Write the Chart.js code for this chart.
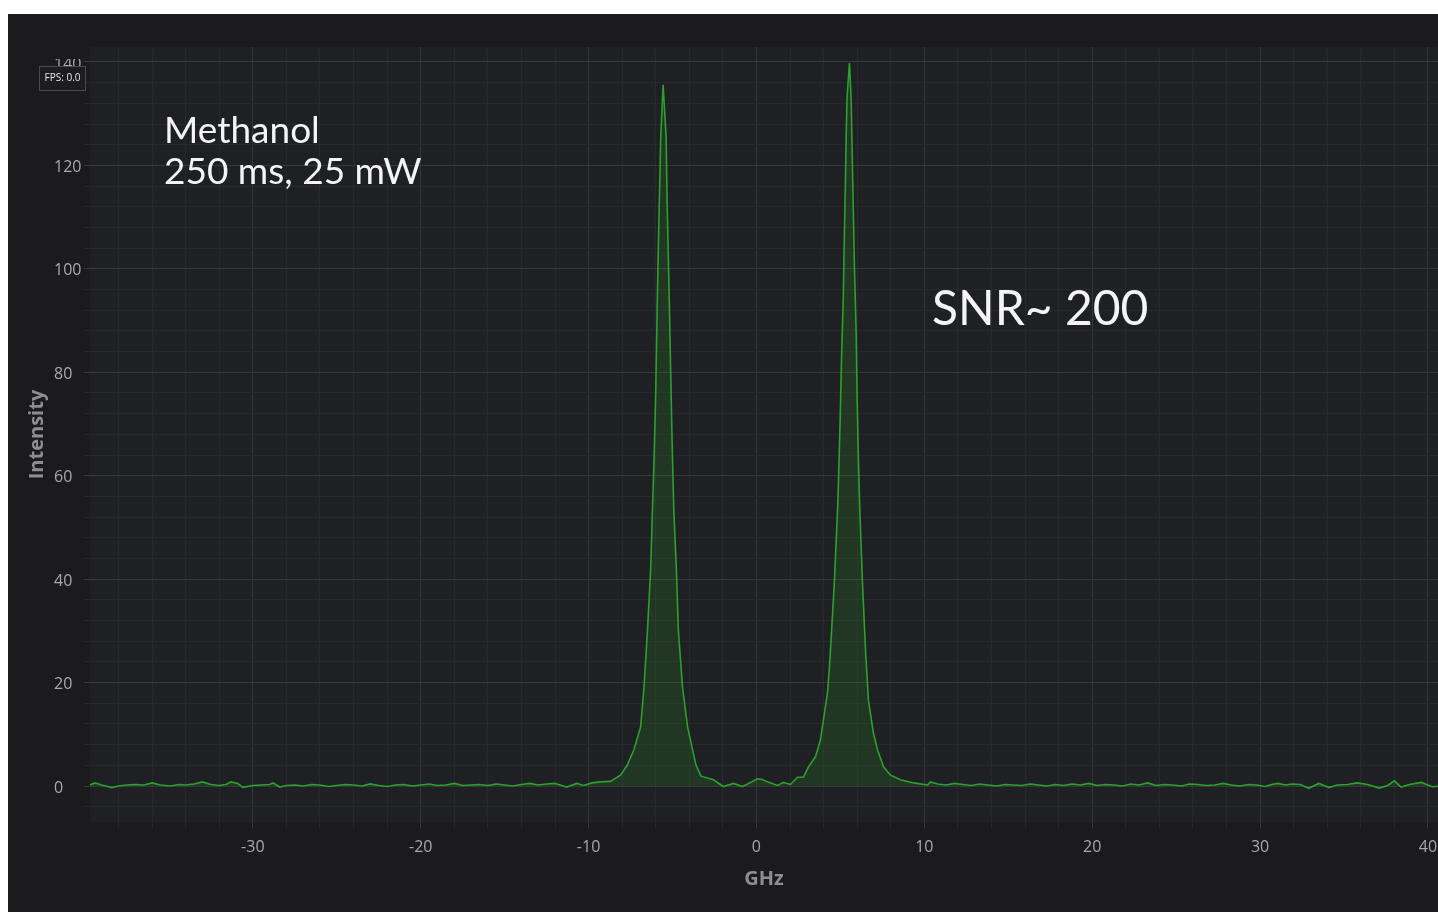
<!DOCTYPE html>
<html>
<head>
<meta charset="utf-8">
<title>Methanol spectrum</title>
<script src="https://cdn.jsdelivr.net/npm/chart.js@4"></script>
<style>
  html, body { margin: 0; padding: 0; background: #ffffff; }
  #wrap { position: absolute; left: 8px; top: 14px; width: 1430px; height: 898px; background: #1b1b1d; }
</style>
</head>
<body>
<div id="wrap"><canvas id="spectrum"></canvas></div>
<script>
const freqGHz = [
  -39.7, -39.4, -39.0, -38.4, -38.0, -37.5, -37.0, -36.5, -36.0, -35.5,
  -34.9, -34.4, -34.0, -33.5, -33.0, -32.5, -32.0, -31.6, -31.3, -30.9,
  -30.6, -30.0, -29.5, -29.0, -28.8, -28.4, -28.0, -27.5, -27.0, -26.5,
  -26.0, -25.5, -25.0, -24.5, -24.0, -23.5, -23.0, -22.5, -22.0, -21.5,
  -21.0, -20.5, -20.0, -19.5, -19.0, -18.5, -18.0, -17.5, -17.0, -16.5,
  -16.0, -15.5, -15.0, -14.5, -14.0, -13.5, -13.0, -12.5, -12.0, -11.7,
  -11.3, -10.7, -10.3, -9.8, -9.3, -8.7, -8.1, -7.7, -7.3, -6.9,
  -6.7, -6.5, -6.3, -6.2, -6.1, -6.0, -5.9, -5.8, -5.7, -5.56,
  -5.38, -5.32, -5.22, -5.12, -5.02, -4.92, -4.77, -4.65, -4.4, -4.1,
  -3.6, -3.3, -2.56, -1.97, -1.37, -0.83, -0.4, 0.06, 0.3, 0.66,
  1.25, 1.61, 2.03, 2.44, 2.8, 3.1, 3.52, 3.81, 3.99, 4.23,
  4.35, 4.53, 4.65, 4.85, 4.91, 4.99, 5.07, 5.17, 5.24, 5.3,
  5.35, 5.4, 5.54, 5.64, 5.7, 5.76, 5.84, 5.94, 6.0, 6.06,
  6.14, 6.32, 6.5, 6.67, 6.97, 7.21, 7.57, 7.99, 8.58, 9.36,
  10.19, 10.37, 10.8, 11.3, 11.8, 12.3, 12.8, 13.3, 13.8, 14.3,
  14.8, 15.3, 15.8, 16.3, 16.8, 17.3, 17.8, 18.3, 18.8, 19.3,
  19.8, 20.3, 20.8, 21.3, 21.8, 22.3, 22.8, 23.3, 23.8, 24.3,
  24.8, 25.3, 25.8, 26.3, 26.8, 27.3, 27.8, 28.3, 28.8, 29.3,
  29.8, 30.3, 30.7, 31.05, 31.5, 31.9, 32.4, 32.9, 33.5, 34.1,
  34.6, 35.2, 35.8, 36.4, 37.1, 37.6, 38.0, 38.4, 38.9, 39.6,
  40.3, 40.6
];
const intensity = [
  0.2, 0.6, 0.2, -0.3, 0.0, 0.2, 0.3, 0.2, 0.6, 0.2,
  0.0, 0.3, 0.2, 0.4, 0.8, 0.3, 0.1, 0.3, 0.8, 0.5,
  -0.25, 0.1, 0.2, 0.3, 0.6, -0.2, 0.1, 0.2, 0.0, 0.3,
  0.2, -0.1, 0.1, 0.3, 0.2, 0.0, 0.4, 0.1, -0.1, 0.2,
  0.3, 0.0, 0.2, 0.4, 0.1, 0.2, 0.5, 0.1, 0.2, 0.3,
  0.1, 0.4, 0.2, 0.0, 0.3, 0.5, 0.2, 0.4, 0.5, 0.2,
  -0.2, 0.5, 0.1, 0.6, 0.8, 0.9, 2.1, 4.0, 7.0, 11.4,
  19, 29.6, 42, 53, 63, 76, 95, 111, 125.5, 135.6,
  125.5, 113, 98, 82, 66, 53, 42, 30, 19, 11.4,
  4.0, 1.9, 1.2, -0.1, 0.5, -0.1, 0.6, 1.4, 1.3, 0.8,
  0.1, 0.7, 0.3, 1.7, 1.7, 3.7, 5.7, 8.9, 12.8, 18,
  23, 33, 40, 55, 61.7, 71.4, 83, 94, 107, 116.6,
  126.3, 133.3, 139.8, 133, 123, 113, 100, 87.6, 74.7, 65,
  55, 39, 26, 16.6, 10.2, 7.0, 3.7, 2.1, 1.2, 0.6,
  0.2, 0.8, 0.4, 0.2, 0.5, 0.3, 0.1, 0.4, 0.2, 0.0,
  0.3, 0.2, 0.1, 0.4, 0.2, 0.0, 0.3, 0.1, 0.4, 0.2,
  0.5, 0.1, 0.3, 0.2, 0.0, 0.4, 0.2, 0.6, 0.1, 0.3,
  0.2, 0.0, 0.4, 0.3, 0.1, 0.2, 0.5, 0.2, 0.0, 0.3,
  0.2, -0.1, 0.3, 0.5, 0.2, 0.4, 0.3, -0.45, 0.5, -0.3,
  0.2, 0.3, 0.6, 0.3, -0.4, 0.1, 1.0, -0.2, 0.3, 0.7,
  -0.2, 0.0
];

// axis ranges and tick spacing
const xRange = [-39.7, 40.6];
const yRange = [-6.96, 142.9];
const xStep = 2, xLabelEvery = 10;
const yStep = 4, yLabelEvery = 20;

const OUTER_BG = '#1b1b1d';
const PLOT_BG = '#1f2023';
const GRID_MAJOR = '#36373a';
const GRID_MINOR = '#27282b';
const TICK_COLOR = '#a9a9ad';
const TITLE_COLOR = '#8e8e92';
const TRACE = '#2ca02c';

const isMajor = (v, every) => Math.abs(v % every) < 1e-6;

const decor = {
  id: 'decor',
  beforeDraw(chart) {
    const { ctx, chartArea: a } = chart;
    ctx.save();
    ctx.fillStyle = PLOT_BG;
    ctx.fillRect(a.left, a.top, a.right - a.left, a.bottom - a.top);
    ctx.restore();
  },
  afterDraw(chart) {
    const { ctx } = chart;
    ctx.save();
    // the top label sits half under the header strip
    ctx.fillStyle = OUTER_BG;
    ctx.fillRect(0, 0, chart.chartArea.left, 45);

    // fps badge
    ctx.fillStyle = '#1d1d1f';
    ctx.strokeStyle = '#4a4a4d';
    ctx.lineWidth = 1;
    ctx.fillRect(31.5, 52.5, 46, 24);
    ctx.strokeRect(31.5, 52.5, 46, 24);
    ctx.fillStyle = '#e6e6e6';
    ctx.font = '10px "Open Sans"';
    ctx.textAlign = 'center';
    ctx.textBaseline = 'middle';
    ctx.fillText('FPS: 0.0', 54.5, 64.5);

    // notes
    ctx.fillStyle = '#f4f4f4';
    ctx.textAlign = 'left';
    ctx.textBaseline = 'alphabetic';
    ctx.font = '37px Lato';
    ctx.fillText('Methanol', 156, 129);
    ctx.fillText('250 ms, 25 mW', 156, 170);
    ctx.font = '48px Lato';
    ctx.fillText('SNR~ 200', 924, 311);
    ctx.restore();
  }
};

new Chart(document.getElementById('spectrum'), {
  type: 'line',
  data: {
    datasets: [{
      label: 'Intensity',
      data: freqGHz.map((f, i) => ({ x: f, y: intensity[i] })),
      borderColor: TRACE,
      borderWidth: 1.6,
      backgroundColor: 'rgba(44,160,44,0.18)',
      fill: 'origin',
      pointRadius: 0,
      tension: 0
    }]
  },
  options: {
    responsive: true,
    maintainAspectRatio: false,
    animation: false,
    layout: { padding: { left: 46, top: 33, right: 0, bottom: 0 } },
    plugins: { legend: { display: false }, tooltip: { enabled: false } },
    scales: {
      x: {
        type: 'linear',
        min: xRange[0],
        max: xRange[1],
        border: { display: false },
        grid: {
          color: c => isMajor(c.tick.value, xLabelEvery) ? GRID_MAJOR : GRID_MINOR,
          tickColor: c => isMajor(c.tick.value, xLabelEvery) ? GRID_MAJOR : GRID_MINOR,
          tickLength: 6
        },
        ticks: {
          stepSize: xStep,
          includeBounds: false,
          autoSkip: false,
          maxRotation: 0,
          padding: 10,
          color: TICK_COLOR,
          font: { family: '"Open Sans"', size: 16 },
          callback: v => isMajor(v, xLabelEvery) ? String(v) : ''
        },
        title: {
          display: true,
          text: 'GHz',
          color: TITLE_COLOR,
          font: { family: '"Open Sans"', size: 20, weight: 'bold' },
          padding: { top: 0, bottom: 21 }
        },
        afterFit: s => { s.height = 90; s.paddingLeft = 0; s.paddingRight = 0; }
      },
      y: {
        min: yRange[0],
        max: yRange[1],
        border: { display: false },
        grid: {
          color: c => isMajor(c.tick.value, yLabelEvery) ? GRID_MAJOR : GRID_MINOR,
          tickColor: c => isMajor(c.tick.value, yLabelEvery) ? GRID_MAJOR : GRID_MINOR,
          tickLength: 6
        },
        ticks: {
          stepSize: yStep,
          includeBounds: false,
          autoSkip: false,
          crossAlign: 'far',
          labelOffset: 2,
          color: TICK_COLOR,
          font: { family: '"Open Sans"', size: 16 },
          callback: v => isMajor(v, yLabelEvery) ? String(v) : ''
        },
        title: {
          display: true,
          text: 'Intensity',
          color: TITLE_COLOR,
          font: { family: '"Open Sans"', size: 20, weight: 'bold' },
          padding: { top: -29, bottom: 0 }
        },
        afterFit: s => { s.width = 36; s.paddingTop = 0; s.paddingBottom = 0; }
      }
    }
  },
  plugins: [decor]
});
</script>
</body>
</html>
